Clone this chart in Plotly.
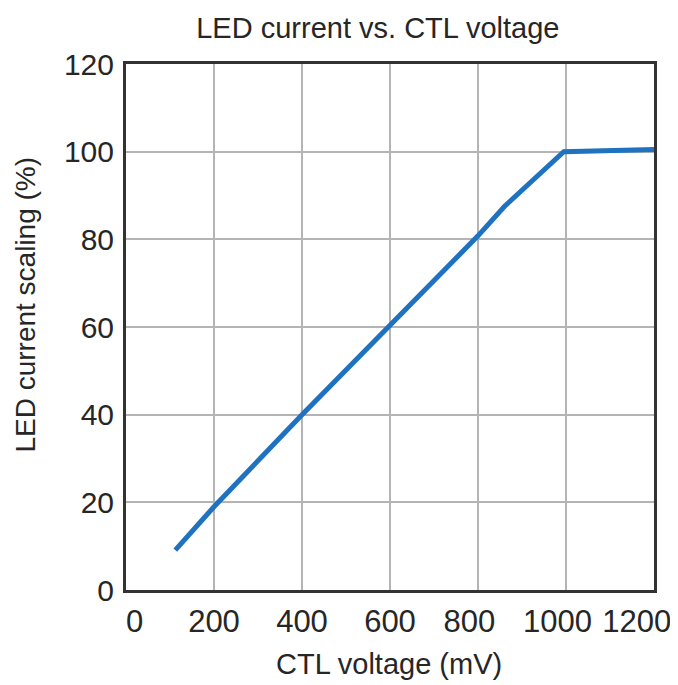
import plotly.graph_objects as go

# Data
ctl_voltage_mv = [112, 200, 400, 600, 800, 860, 995, 1200]
led_current_pct = [9.1, 19.0, 40.0, 60.5, 80.8, 87.5, 100.0, 100.5]

x_ticks = [0, 200, 400, 600, 800, 1000, 1200]
y_ticks = [0, 20, 40, 60, 80, 100, 120]

title_text = "LED current vs. CTL voltage"
x_title = "CTL voltage (mV)"
y_title = "LED current scaling (%)"

FONT = "Liberation Sans, Arial, sans-serif"
TXT = "#262626"

# label nudging (styling only): number of non-breaking spaces before/after
NB = "\u00a0"
x_label_pad = {0: (2, 0), 800: (0, 2), 1000: (0, 2), 1200: (0, 4)}
x_ticktext = [NB * x_label_pad.get(v, (0, 0))[0] + str(v) + NB * x_label_pad.get(v, (0, 0))[1]
              for v in x_ticks]

fig = go.Figure()
fig.add_trace(go.Scatter(
    x=ctl_voltage_mv, y=led_current_pct, mode="lines",
    line=dict(color="#1f72bf", width=5),
    hoverinfo="skip", showlegend=False,
))

fig.update_layout(
    width=670, height=677,
    margin=dict(l=118, r=24, t=56, b=95, autoexpand=False),
    paper_bgcolor="white", plot_bgcolor="white",
    font=dict(family=FONT, color=TXT, size=28),
    title=dict(text=title_text, x=0.552, xanchor="center",
               y=0.97, yanchor="middle", font=dict(size=29, family=FONT, color=TXT)),
    annotations=[
        dict(text=x_title, xref="paper", yref="paper", x=0.498, y=-0.14,
             xanchor="center", yanchor="middle", showarrow=False,
             font=dict(size=29, family=FONT, color=TXT)),
        dict(text=y_title, xref="paper", yref="paper", x=-0.19, y=0.542,
             xanchor="center", yanchor="middle", showarrow=False, textangle=-90,
             font=dict(size=28, family=FONT, color=TXT)),
    ],
)
fig.update_xaxes(
    range=[0, 1200], tickvals=x_ticks, ticktext=x_ticktext, tickangle=0,
    showgrid=True, gridcolor="#b4b4b4", gridwidth=1.5,
    showline=True, linecolor="#333333", linewidth=3, mirror=True,
    ticks="", tickfont=dict(size=31), zeroline=False,
    ticklabelstandoff=2, ticklabeloverflow="allow", automargin=False,
)
fig.update_yaxes(
    range=[0, 120], tickvals=y_ticks, ticktext=[str(v) for v in y_ticks],
    showgrid=True, gridcolor="#b4b4b4", gridwidth=1.5,
    showline=True, linecolor="#333333", linewidth=3, mirror=True,
    ticks="", tickfont=dict(size=30), zeroline=False, ticklabelstandoff=3,
    ticklabeloverflow="allow", automargin=False,
)

fig.write_html("out.html")
